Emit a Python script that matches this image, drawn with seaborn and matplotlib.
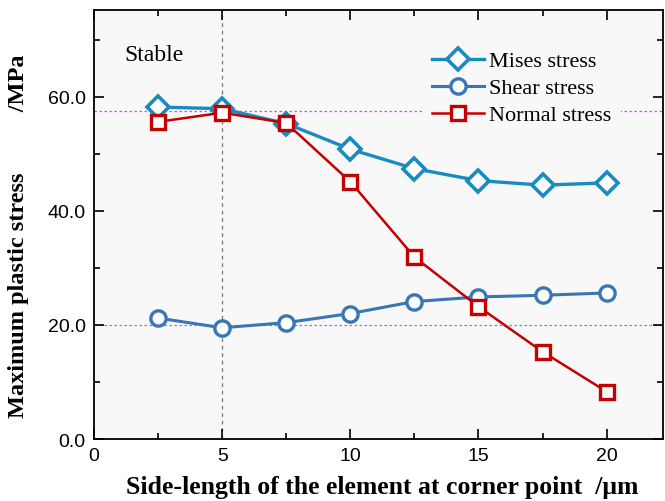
import matplotlib
matplotlib.use("Agg")
import matplotlib.pyplot as plt
from matplotlib.ticker import MultipleLocator, FormatStrFormatter
import seaborn as sns

# Side length of the corner element (um)
side_length = [2.5, 5.0, 7.5, 10.0, 12.5, 15.0, 17.5, 20.0]
# Maximum plastic stress (MPa)
mises_stress = [58.2, 57.9, 55.3, 50.8, 47.4, 45.3, 44.5, 44.9]
shear_stress = [21.2, 19.5, 20.4, 22.0, 24.1, 24.9, 25.2, 25.6]
normal_stress = [55.6, 57.2, 55.4, 45.1, 31.9, 23.2, 15.3, 8.3]

series_labels = ["Mises stress", "Shear stress", "Normal stress"]
x_ticks = [0, 5, 10, 15, 20]
y_ticks = [0, 20, 40, 60]

serif = ["Liberation Serif", "DejaVu Serif"]
sans = ["Liberation Sans", "DejaVu Sans"]
panel_bg = "#f8f8f8"

fig = plt.figure(figsize=(6.65, 5.02), dpi=100)
ax = fig.add_axes([0.1414, 0.1235, 0.8556, 0.8545])
ax.set_facecolor(panel_bg)

# reference lines
ax.axvline(5, color="#777777", lw=0.9, ls=(0, (3, 3)), zorder=1)
ax.axhline(57.5, color="#ff33ff", lw=0.9, ls=(0, (2, 2)), zorder=1)
ax.axhline(20.0, color="#6a8fc8", lw=0.9, ls=(0, (2, 2)), zorder=1)

sns.lineplot(x=side_length, y=mises_stress, ax=ax, color="#1a8bbf",
             marker="D", markersize=11, markerfacecolor="white",
             markeredgecolor="#1a8bbf", markeredgewidth=2.6, linewidth=2.4,
             label=series_labels[0], zorder=3)
sns.lineplot(x=side_length, y=shear_stress, ax=ax, color="#3a76b3",
             marker="o", markersize=11, markerfacecolor="white",
             markeredgecolor="#3a76b3", markeredgewidth=2.4, linewidth=2.2,
             label=series_labels[1], zorder=4)
sns.lineplot(x=side_length, y=normal_stress, ax=ax, color="#c40000",
             marker="s", markersize=10, markerfacecolor="white",
             markeredgecolor="#c40000", markeredgewidth=2.4, linewidth=1.8,
             label=series_labels[2], zorder=5)

ax.set_xlim(0, 22.2)
ax.set_ylim(0, 75.2)
ax.set_xticks(x_ticks)
ax.set_yticks(y_ticks)
ax.xaxis.set_minor_locator(MultipleLocator(2.5))
ax.yaxis.set_minor_locator(MultipleLocator(10))
ax.yaxis.set_major_formatter(FormatStrFormatter("%.1f"))
ax.tick_params(which="both", direction="in", top=True, right=True, width=1.2)
ax.tick_params(which="major", length=7, labelsize=14, pad=6)
ax.tick_params(which="minor", length=4)
for lab in ax.get_xticklabels() + ax.get_yticklabels():
    lab.set_family(sans)
for sp in ax.spines.values():
    sp.set_linewidth(1.3)
    sp.set_color("black")

ax.set_xlabel("Side-length of the element at corner point  /\u03bcm",
              family=serif, fontweight="bold", fontsize=18.5)
ax.xaxis.set_label_coords(0.507, -0.083)
ax.set_ylabel("Maximum plastic stress" + " " * 10 + "/MPa",
              family=serif, fontweight="bold", fontsize=17.5)
ax.yaxis.set_label_coords(-0.114, 0.476)

ax.text(1.2, 67.4, "Stable", family=serif, fontsize=17,
        ha="left", va="center")

leg = ax.legend(loc="upper left", bbox_to_anchor=(0.5765, 0.928),
                frameon=True, facecolor=panel_bg, edgecolor="none",
                framealpha=1, fancybox=False, borderpad=0.45,
                borderaxespad=0, handlelength=2.35, handletextpad=0.2,
                labelspacing=0.29, prop={"family": serif, "size": 16})
leg.set_zorder(6)

fig.savefig("out.png", dpi=100, facecolor="white")
